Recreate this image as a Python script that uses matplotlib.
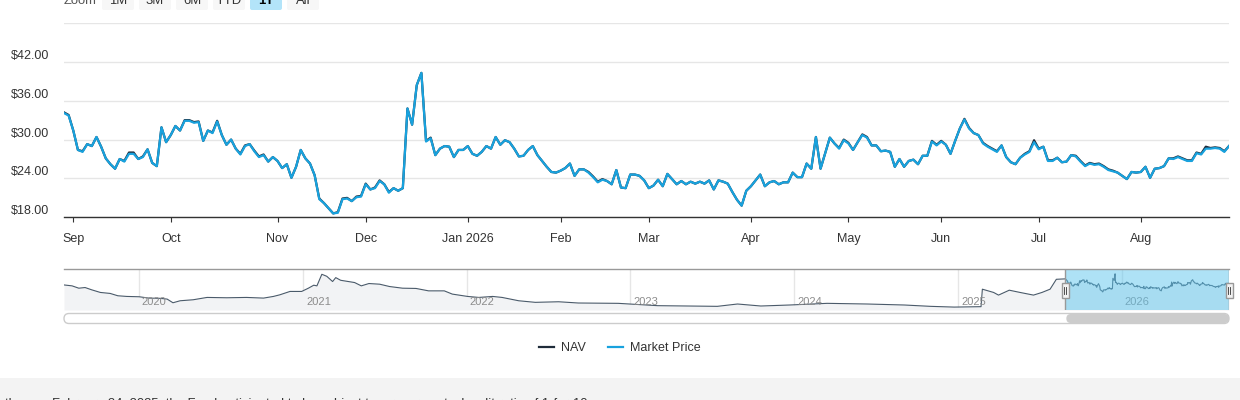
import matplotlib
matplotlib.use("Agg")
import matplotlib.pyplot as plt
import matplotlib.dates as mdates
from matplotlib.patches import FancyBboxPatch, Rectangle
import numpy as np
import pandas as pd

plt.rcParams['font.family'] = ['Liberation Sans', 'DejaVu Sans']

W, H = 1240, 400

# !Data - one year window, daily (trading days only)
start_date = "2025-08-28"
end_date = "2026-08-28"
holidays = ["2025-09-01", "2025-11-27", "2025-12-25", "2026-01-01", "2026-01-19",
            "2026-02-16", "2026-04-03", "2026-05-25", "2026-06-19", "2026-07-03"]

market_price = [
    34.1, 33.7, 31.4, 28.4, 28.1, 29.3, 29.0, 30.4, 28.9, 27.1,
    26.2, 25.5, 27.0, 26.6, 27.8, 27.8, 27.0, 27.3, 28.5, 26.4,
    25.9, 31.9, 29.6, 30.7, 32.1, 31.4, 32.9, 32.9, 32.6, 32.7,
    29.8, 31.4, 31.0, 32.8, 30.7, 29.2, 30.0, 28.6, 27.7, 29.0,
    29.3, 28.2, 27.3, 27.6, 26.6, 27.3, 26.7, 25.6, 26.2, 24.1,
    25.8, 28.4, 27.1, 26.3, 24.5, 20.8, 20.2, 19.4, 18.6, 18.7,
    20.8, 20.9, 20.5, 21.1, 21.2, 23.1, 22.3, 22.5, 23.6, 23.1,
    21.8, 22.5, 22.1, 22.5, 34.8, 32.3, 38.4, 40.3, 29.7, 30.2,
    27.6, 28.6, 29.0, 28.9, 27.3, 28.4, 28.4, 29.0, 27.8, 27.5,
    28.1, 29.0, 28.6, 30.4, 29.2, 29.9, 29.6, 28.6, 27.4, 27.5,
    28.4, 29.0, 27.6, 26.7, 25.8, 25.0, 24.9, 25.2, 25.6, 26.3,
    24.4, 25.4, 25.4, 24.9, 24.2, 23.4, 23.8, 23.6, 23.1, 25.3,
    22.6, 22.5, 24.6, 24.6, 24.4, 23.7, 22.5, 22.9, 23.8, 22.8,
    24.7, 23.9, 23.1, 23.6, 23.1, 23.5, 23.2, 23.5, 23.2, 23.7,
    22.3, 23.7, 23.5, 23.2, 21.9, 20.7, 19.8, 22.1, 22.8, 23.7,
    24.6, 22.8, 23.4, 23.6, 23.1, 23.4, 23.4, 24.9, 24.2, 24.2,
    26.3, 25.5, 30.4, 25.5, 27.9, 30.3, 29.4, 28.6, 29.9, 29.4,
    28.4, 29.6, 30.7, 30.3, 29.1, 29.1, 28.2, 28.3, 28.1, 25.8,
    27.0, 25.8, 26.7, 26.9, 26.2, 27.5, 27.5, 29.7, 29.1, 29.7,
    29.2, 27.8, 29.8, 31.7, 33.1, 31.7, 31.0, 30.7, 29.4, 28.9,
    28.5, 28.1, 29.1, 27.3, 26.5, 26.2, 27.2, 27.7, 28.1, 29.6,
    28.5, 28.9, 26.7, 26.7, 27.2, 26.5, 26.6, 27.6, 27.4, 26.6,
    25.9, 26.3, 26.1, 26.2, 25.8, 25.3, 25.1, 24.9, 24.4, 23.9,
    25.0, 24.9, 25.0, 25.8, 24.1, 25.5, 25.6, 25.9, 27.1, 27.0,
    27.3, 27.0, 26.7, 26.7, 27.9, 27.7, 28.6, 28.6, 28.7, 28.6,
    28.1, 29.0,
]

nav = [
    34.2, 33.8, 31.4, 28.4, 28.2, 29.3, 29.0, 30.4, 28.9, 27.1,
    26.2, 25.5, 27.0, 26.7, 28.0, 28.0, 27.0, 27.4, 28.5, 26.4,
    25.9, 31.9, 29.6, 30.7, 32.1, 31.4, 33.0, 33.0, 32.7, 32.8,
    29.8, 31.4, 31.1, 32.9, 30.7, 29.2, 30.0, 28.6, 27.8, 29.1,
    29.3, 28.3, 27.4, 27.7, 26.6, 27.3, 26.7, 25.6, 26.2, 24.1,
    25.8, 28.4, 27.1, 26.3, 24.5, 20.9, 20.2, 19.4, 18.6, 18.8,
    20.9, 21.0, 20.5, 21.2, 21.3, 23.2, 22.3, 22.6, 23.7, 23.1,
    21.9, 22.5, 22.1, 22.5, 34.8, 32.3, 38.4, 40.3, 29.8, 30.3,
    27.6, 28.6, 29.0, 28.9, 27.3, 28.4, 28.4, 29.0, 27.8, 27.5,
    28.1, 29.0, 28.6, 30.4, 29.2, 29.9, 29.6, 28.6, 27.4, 27.5,
    28.4, 29.0, 27.6, 26.7, 25.8, 25.0, 24.9, 25.2, 25.6, 26.3,
    24.4, 25.4, 25.4, 25.0, 24.3, 23.5, 23.9, 23.6, 23.1, 25.3,
    22.6, 22.5, 24.6, 24.6, 24.4, 23.7, 22.5, 22.9, 23.8, 22.8,
    24.7, 23.9, 23.1, 23.6, 23.1, 23.5, 23.2, 23.5, 23.2, 23.7,
    22.3, 23.7, 23.5, 23.2, 21.9, 20.7, 19.8, 22.1, 22.8, 23.7,
    24.6, 22.8, 23.4, 23.6, 23.1, 23.4, 23.4, 24.9, 24.2, 24.2,
    26.3, 25.5, 30.4, 25.5, 27.9, 30.3, 29.4, 28.7, 30.0, 29.5,
    28.4, 29.6, 30.8, 30.4, 29.1, 29.1, 28.2, 28.3, 28.1, 25.8,
    27.0, 25.8, 26.7, 26.9, 26.2, 27.5, 27.5, 29.8, 29.2, 29.8,
    29.2, 27.8, 29.8, 31.7, 33.2, 31.8, 31.0, 30.7, 29.5, 29.0,
    28.6, 28.2, 29.1, 27.3, 26.5, 26.2, 27.2, 27.8, 28.2, 29.9,
    28.6, 28.9, 26.8, 26.8, 27.2, 26.5, 26.6, 27.6, 27.5, 26.7,
    26.0, 26.4, 26.2, 26.3, 25.9, 25.4, 25.2, 24.9, 24.4, 23.9,
    25.0, 24.9, 25.0, 25.8, 24.1, 25.5, 25.6, 25.9, 27.1, 27.1,
    27.4, 27.1, 26.8, 26.8, 28.0, 27.8, 28.9, 28.7, 28.8, 28.7,
    28.2, 29.0,
]

# longer history shown in the navigator strip
hist_dates = [
    "2019-07-18", "2019-08-05", "2019-08-20", "2019-09-03", "2019-09-18", "2019-10-07",
    "2019-10-29", "2019-11-15", "2019-12-05", "2020-01-02", "2020-01-23", "2020-02-18",
    "2020-03-04", "2020-03-17", "2020-04-02", "2020-05-01", "2020-06-01", "2020-07-15",
    "2020-08-28", "2020-10-05", "2020-10-27", "2020-11-10", "2020-12-03", "2020-12-29",
    "2021-01-13", "2021-01-25", "2021-02-01", "2021-02-12", "2021-02-23", "2021-03-08",
    "2021-03-15", "2021-03-26", "2021-04-12", "2021-04-26", "2021-05-11", "2021-05-28",
    "2021-06-21", "2021-07-13", "2021-08-11", "2021-09-10", "2021-10-08", "2021-11-12",
    "2021-11-30", "2022-01-03", "2022-01-28", "2022-02-28", "2022-03-21", "2022-04-27",
    "2022-06-03", "2022-07-25", "2022-09-07", "2022-12-05", "2023-03-03", "2023-07-14",
    "2023-08-28", "2023-10-19", "2023-12-22", "2024-03-15", "2024-06-12", "2024-09-03",
    "2024-10-31", "2024-12-23", "2025-02-21", "2025-02-24", "2025-03-21", "2025-04-01",
    "2025-04-25", "2025-05-19", "2025-06-18", "2025-07-07", "2025-07-25", "2025-08-01",
    "2025-08-08",
]
hist_nav = [
    26.9, 25.8, 23.0, 23.8, 21.0, 17.9,
    16.7, 13.9, 13.1, 12.7, 11.1, 10.8,
    9.9, 5.5, 7.9, 9.1, 11.9, 11.5,
    11.9, 11.1, 13.1, 15.0, 19.1, 19.1,
    23.0, 26.6, 25.8, 39.7, 37.3, 31.0,
    35.7, 32.5, 31.0, 29.8, 25.8, 28.6,
    27.8, 25.0, 23.0, 22.7, 19.8, 19.8,
    15.9, 13.1, 11.9, 13.1, 11.9, 7.9,
    6.0, 6.7, 5.2, 4.8, 2.0, 1.2,
    4.0, 1.6, 2.8, 4.8, 4.0, 2.8,
    1.2, 0.3, 0.8, 21.8, 17.9, 14.7,
    20.6, 17.9, 14.7, 17.9, 21.8, 27.8,
    33.7,
]

y_ticks = [18, 24, 30, 36, 42, 48]
series_names = ["NAV", "Market Price"]
zoom_buttons = ["1M", "3M", "6M", "YTD", "1Y", "All"]
selected_button = "1Y"
footnote = ("then on February 24, 2025, the Fund anticipated to be subject to a reverse "
            "stock split ratio of 1-for-10")

NAV_COLOR = "#1f2c3a"
PRICE_COLOR = "#18a2de"
TEXT = "#333333"

dates = pd.bdate_range(start_date, end_date, freq="C", holidays=holidays)
x = np.arange(len(dates))

# first trading day of each month gets a tick (ordinal axis like the stock chart)
month_pos = [i for i in range(1, len(dates)) if dates[i].month != dates[i - 1].month]
month_labels = [dates[i].strftime("%b %Y") if dates[i].month == 1 else dates[i].strftime("%b")
                for i in month_pos]

fig = plt.figure(figsize=(W / 100, H / 100), dpi=100)


def box(l, t, r, b):  # pixel box -> figure fraction
    return [l / W, 1 - b / H, (r - l) / W, (b - t) / H]


# !Main chart
ax = fig.add_axes(box(64, 23, 1229, 217.3))
l_nav, = ax.plot(x, nav, color=NAV_COLOR, lw=1.6, solid_joinstyle="round", zorder=3)
l_px, = ax.plot(x, market_price, color=PRICE_COLOR, lw=1.6, solid_joinstyle="round", zorder=4)
ax.set_xlim(0, len(x) - 1)
ax.set_ylim(y_ticks[0], y_ticks[-1])
ax.set_yticks(y_ticks)
ax.set_yticklabels([])
ax.tick_params(axis="y", length=0)
ax.grid(axis="y", color="#e6e6e6", lw=1)
ax.set_axisbelow(True)
for s in ["left", "right", "top"]:
    ax.spines[s].set_visible(False)
ax.spines["bottom"].set_color(TEXT)
ax.spines["bottom"].set_linewidth(1)
ax.set_xticks(month_pos)
ax.set_xticklabels(month_labels, fontsize=9, color=TEXT)
ax.tick_params(axis="x", length=3.6, width=0.8, color=TEXT, pad=7.5)
for v in y_ticks[:-1]:
    ax.annotate(f"${v:.2f}", xy=(0, v), xycoords=("axes fraction", "data"),
                xytext=(-15, 6), textcoords="offset pixels", ha="right", va="center",
                fontsize=9, color=TEXT)

# !Navigator
axn = fig.add_axes(box(64, 269.3, 1229, 310))
nav_dates = list(pd.to_datetime(hist_dates)) + list(dates)
nav_vals = hist_nav + nav
axn.set_ylim(-3.2, 45.7)
axn.fill_between(nav_dates, nav_vals, -3.2, color="#f2f3f5", lw=0, zorder=1)
axn.plot(nav_dates, nav_vals, color="#4a5a6a", lw=0.8, zorder=2)
axn.set_xlim(pd.Timestamp("2019-07-18"), dates[-1])
for yr in range(2020, 2027):
    t = pd.Timestamp(yr, 1, 1)
    axn.axvline(t, color="#e6e6e6", lw=1, zorder=0.5)
    axn.annotate(str(yr), xy=(t, 0), xycoords=("data", "axes fraction"), xytext=(3, 8),
                 textcoords="offset pixels", ha="left", va="center", fontsize=8,
                 color="#8c8c8c", zorder=3)
axn.axvspan(dates[0], dates[-1], color="#5ec6ee", alpha=0.5, lw=0, zorder=5)
axn.axvline(dates[0], color="#999999", lw=1, zorder=6)
axn.axvline(dates[-1], color="#999999", lw=1, zorder=6)
axn.plot([0, 1], [1, 1], transform=axn.transAxes, color="#999999", lw=1, clip_on=False, zorder=6)
axn.set_xticks([])
axn.set_yticks([])
for s in axn.spines.values():
    s.set_visible(False)

sel_x0 = axn.transData.transform((mdates.date2num(dates[0]), 0))[0]
sel_x1 = axn.transData.transform((mdates.date2num(dates[-1]), 0))[0]

# !Page chrome in pixel coordinates
ov = fig.add_axes([0, 0, 1, 1])
ov.set_xlim(0, W)
ov.set_ylim(H, 0)
ov.axis("off")
ov.patch.set_alpha(0)
ov.set_zorder(10)

# range selector buttons
ov.text(64, 4, "Zoom", fontsize=9.4, color="#555555", va="baseline", ha="left")
for i, b in enumerate(zoom_buttons):
    bx = 102 + i * 37
    sel = b == selected_button
    ov.add_patch(FancyBboxPatch((bx, -12), 32, 22, boxstyle="round,pad=0,rounding_size=2",
                                fc="#b3e4f9" if sel else "#f7f7f7", ec="none"))
    ov.text(bx + 16, 4, b, fontsize=9.4, color="#000000" if sel else TEXT,
            fontweight="bold" if sel else "normal", ha="center", va="baseline")

# navigator handles
for hx in (sel_x0, sel_x1):
    ov.add_patch(Rectangle((hx - 3.5, 283), 7, 15, fc="#f2f2f2", ec="#999999", lw=1))
    for dx in (-1, 1):
        ov.plot([hx + dx, hx + dx], [287, 294], color="#333333", lw=0.6)

# scrollbar
ov.add_patch(FancyBboxPatch((64, 313.5), 1165, 10, boxstyle="round,pad=0,rounding_size=5",
                            fc="white", ec="#cccccc", lw=1))
ov.add_patch(FancyBboxPatch((sel_x0 + 1, 314), sel_x1 - sel_x0 - 1, 9,
                            boxstyle="round,pad=0,rounding_size=4.5", fc="#cccccc", ec="none"))

# footer band with the note cut off by the page edge
ov.add_patch(Rectangle((0, 378), W, 22, fc="#f3f3f3", ec="none"))
ov.text(5, 406.5, footnote, fontsize=9.4, color=TEXT, ha="left", va="baseline")

fig.legend(handles=[l_nav, l_px], labels=series_names, loc="center",
           bbox_to_anchor=(619.5 / W, 1 - 348 / H), ncol=2, frameon=False, fontsize=9,
           handlelength=1.2, handletextpad=0.55, columnspacing=1.8, labelcolor=TEXT)

fig.savefig("out.png", dpi=100)
